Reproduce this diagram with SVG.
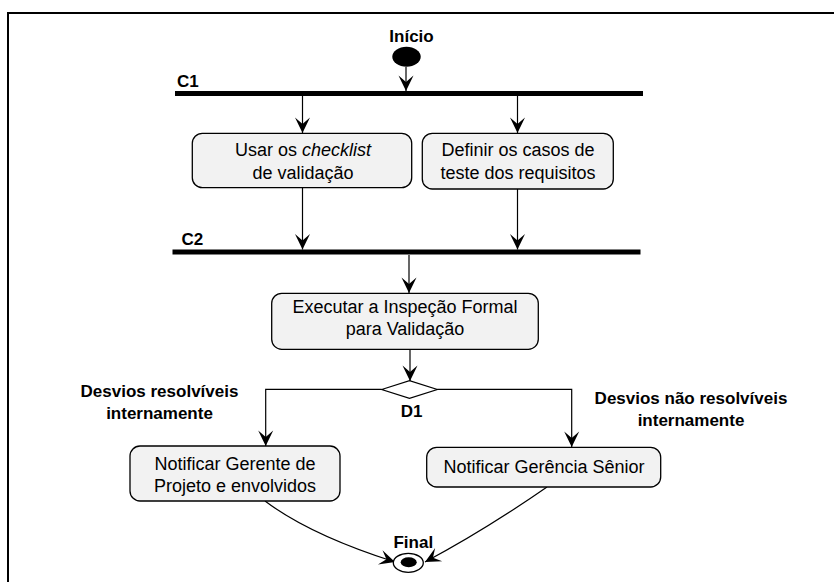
<svg xmlns="http://www.w3.org/2000/svg" width="834" height="582" viewBox="0 0 834 582">
  <style>
    .frame { fill: none; stroke: #000; stroke-width: 2; }
    .bar { fill: #000; }
    .task { fill: #f2f2f2; stroke: #000; stroke-width: 1.3; }
    .txt { font-family: "Liberation Sans", Arial, sans-serif; font-size: 18px; fill: #000; text-anchor: middle; }
    .lbl { font-family: "Liberation Sans", Arial, sans-serif; font-size: 17px; font-weight: bold; fill: #000; }
    .mid { text-anchor: middle; }
    .flow { fill: none; stroke: #000; stroke-width: 1.2; marker-end: url(#arrow); }
  </style>
  <defs>
    <marker id="arrow" markerUnits="userSpaceOnUse" viewBox="-16 -8 17 16" refX="0" refY="0" markerWidth="17" markerHeight="16" orient="auto">
      <path d="M0,0 L-15.5,-7.5 L-9,0 L-15.5,7.5 Z" fill="#000"/>
    </marker>
  </defs>

  <rect width="834" height="582" fill="#fff"/>
  <path class="frame" d="M8,582 V13 H834"/>

  <!-- connectors -->
  <g id="connectors">
    <path class="flow" d="M406,67 V91"/>
    <path class="flow" d="M302.5,96 V133"/>
    <path class="flow" d="M517.5,96 V133"/>
    <path class="flow" d="M302.5,188 V249.5"/>
    <path class="flow" d="M517.5,189 V249.5"/>
    <path class="flow" d="M409,255 V293"/>
    <path class="flow" d="M410,349 V381"/>
    <path class="flow" d="M381.7,389.3 H265.7 V446"/>
    <path class="flow" d="M437.3,389.3 H571.7 V447"/>
    <path class="flow" d="M265,501 Q310,535 395,562"/>
    <path class="flow" d="M547,487 Q485,530 425,562"/>
  </g>

  <!-- start -->
  <g id="start">
    <text class="lbl mid" x="411.5" y="41.5">Início</text>
    <ellipse cx="406.5" cy="56.7" rx="14.2" ry="10" fill="#000"/>
  </g>

  <!-- fork C1 -->
  <g id="fork-c1">
    <rect class="bar" x="175" y="91" width="468" height="5"/>
    <text class="lbl" x="177" y="87">C1</text>
  </g>

  <!-- checklist task -->
  <g id="task-checklist">
    <rect class="task" x="192.3" y="133.3" width="219.4" height="54.4" rx="10"/>
    <text class="txt" x="303" y="156">Usar os <tspan font-style="italic">checklist</tspan></text>
    <text class="txt" x="303" y="178.5">de validação</text>
  </g>

  <!-- test cases task -->
  <g id="task-test-cases">
    <rect class="task" x="422.3" y="133.3" width="191" height="55.7" rx="10"/>
    <text class="txt" x="518" y="156">Definir os casos de</text>
    <text class="txt" x="518" y="178.5">teste dos requisitos</text>
  </g>

  <!-- join C2 -->
  <g id="join-c2">
    <rect class="bar" x="172.5" y="249.5" width="468" height="5"/>
    <text class="lbl" x="181.5" y="245">C2</text>
  </g>

  <!-- inspection task -->
  <g id="task-inspection">
    <rect class="task" x="271.7" y="293.3" width="266.6" height="56" rx="10"/>
    <text class="txt" x="405" y="312.5">Executar a Inspeção Formal</text>
    <text class="txt" x="405" y="335">para Validação</text>
  </g>

  <!-- decision D1 -->
  <g id="decision-d1">
    <path d="M381.7,389.5 L409.5,380.7 L437.3,389.5 L409.5,398.3 Z" fill="#fff" stroke="#000" stroke-width="1.2"/>
    <text class="lbl mid" x="411.7" y="416.7">D1</text>
  </g>

  <!-- guard labels -->
  <g id="label-resolvable">
    <text class="lbl mid" x="159.5" y="397">Desvios resolvíveis</text>
    <text class="lbl mid" x="159.5" y="418.5">internamente</text>
  </g>
  <g id="label-not-resolvable">
    <text class="lbl mid" x="691" y="404">Desvios não resolvíveis</text>
    <text class="lbl mid" x="691" y="426">internamente</text>
  </g>

  <!-- notify project manager -->
  <g id="task-notify-pm">
    <rect class="task" x="130" y="446" width="210" height="55" rx="10"/>
    <text class="txt" x="235" y="470">Notificar Gerente de</text>
    <text class="txt" x="235" y="492">Projeto e envolvidos</text>
  </g>

  <!-- notify senior management -->
  <g id="task-notify-senior">
    <rect class="task" x="426.7" y="447.3" width="234" height="39.7" rx="10"/>
    <text class="txt" x="544" y="473">Notificar Gerência Sênior</text>
  </g>

  <!-- final -->
  <g id="end">
    <text class="lbl mid" x="413.3" y="548.3">Final</text>
    <ellipse cx="408.3" cy="562.8" rx="15" ry="9.5" fill="#fff" stroke="#000" stroke-width="1.3"/>
    <ellipse cx="408.7" cy="562.3" rx="8" ry="5" fill="#000"/>
  </g>
</svg>
